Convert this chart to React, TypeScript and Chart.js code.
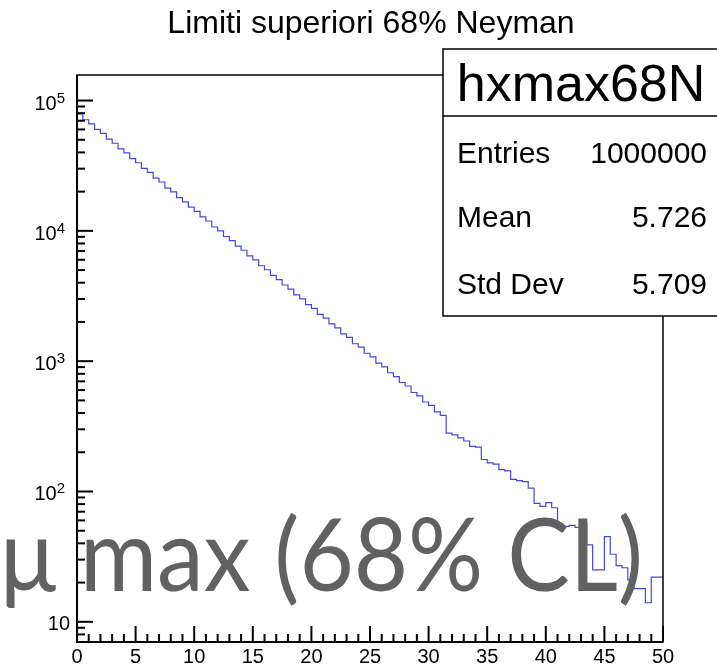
import React, { useEffect, useRef } from 'react';
import { Chart, registerables } from 'chart.js';

Chart.register(...registerables);

// ---------------- data ----------------
const titleText = 'Limiti superiori 68% Neyman';
const overlayText = 'μ max (68% CL)';

const xMin = 0;
const xMax = 50;
const binWidth = 0.5;

// bin contents (100 bins of width 0.5 from 0 to 50)
const counts = [
  84500, 78800, 71200, 66300, 60100, 55900, 50500, 47000, 42500, 39600,
  35800, 33300, 30200, 28100, 25400, 23700, 21300, 19900, 18000, 16700,
  15200, 14100, 12800, 11900, 10700, 10000, 9050, 8420, 7630, 7100,
  6420, 5980, 5400, 5030, 4560, 4230, 3840, 3570, 3230, 3010,
  2720, 2540, 2290, 2140, 1930, 1800, 1620, 1520, 1360, 1280,
  1150, 1080, 965, 905, 815, 762, 686, 645, 575, 542,
  486, 458, 408, 384, 280, 272, 258, 244, 222, 219,
  176, 166, 162, 147, 144, 124, 121, 119, 106, 81,
  77, 82, 75, 56, 54, 55, 53, 57, 39, 25,
  25, 45, 33, 27, 26, 21, 18, 18, 14, 22,
];

const yMin = 7;
const yMax = 157000;

const xMajorTicks = [0, 5, 10, 15, 20, 25, 30, 35, 40, 45, 50];
const xTickLabels = ['0', '5', '10', '15', '20', '25', '30', '35', '40', '45', '50'];
const yDecadeExponents = [1, 2, 3, 4, 5];

const statsName = 'hxmax68N';
const statsLabels = ['Entries', 'Mean', 'Std Dev'];
const statsValues = ['1000000', '5.726', '5.709'];

const SANS = "'Liberation Sans', Arial, Helvetica, sans-serif";

// ---------------- decoration plugin (ROOT style) ----------------
const rootDecor = {
  id: 'rootDecor',
  beforeDraw(chart: any) {
    const ctx = chart.ctx;
    ctx.save();
    ctx.fillStyle = '#ffffff';
    ctx.fillRect(0, 0, chart.width, chart.height);
    ctx.restore();
  },
  afterDraw(chart: any) {
    const ctx: CanvasRenderingContext2D = chart.ctx;
    const a = chart.chartArea;
    const xs = chart.scales.x;
    const ys = chart.scales.y;
    ctx.save();

    // frame
    ctx.strokeStyle = '#000';
    ctx.lineWidth = 1.5;
    ctx.strokeRect(a.left, a.top, a.right - a.left, a.bottom - a.top);
    ctx.lineWidth = 2;
    ctx.beginPath();
    ctx.moveTo(a.left, a.top);
    ctx.lineTo(a.left, a.bottom);
    ctx.lineTo(a.right, a.bottom);
    ctx.stroke();

    // y ticks (log)
    ctx.lineWidth = 2;
    for (let e = 0; e <= 6; e++) {
      for (let m = 1; m <= 9; m++) {
        const v = m * Math.pow(10, e);
        if (v <= ys.min || v > ys.max) continue;
        const py = ys.getPixelForValue(v);
        const len = m === 1 ? 16 : 8;
        ctx.beginPath();
        ctx.moveTo(a.left, py);
        ctx.lineTo(a.left + len, py);
        ctx.stroke();
      }
    }

    // x ticks
    for (let v = xMin; v <= xMax; v += 1) {
      const px = xs.getPixelForValue(v);
      const len = xMajorTicks.includes(v) ? 16 : 8;
      ctx.beginPath();
      ctx.moveTo(px, a.bottom);
      ctx.lineTo(px, a.bottom - len);
      ctx.stroke();
    }

    // y labels
    ctx.fillStyle = '#000';
    ctx.textBaseline = 'alphabetic';
    yDecadeExponents.forEach((ex) => {
      const py = ys.getPixelForValue(Math.pow(10, ex));
      if (ex === 1) {
        ctx.font = `20px ${SANS}`;
        ctx.textAlign = 'right';
        ctx.fillText('10', a.left - 7, py + 8);
      } else {
        ctx.font = `15px ${SANS}`;
        const sup = String(ex);
        const supW = ctx.measureText(sup).width;
        const rightEdge = a.left - 12;
        ctx.textAlign = 'left';
        ctx.fillText(sup, rightEdge - supW, py + 2);
        ctx.font = `20px ${SANS}`;
        ctx.textAlign = 'right';
        ctx.fillText('10', rightEdge - supW, py + 9);
      }
    });

    // x labels
    ctx.font = `20px ${SANS}`;
    ctx.textAlign = 'center';
    xMajorTicks.forEach((v, i) => {
      const px = xs.getPixelForValue(v);
      ctx.fillText(xTickLabels[i], px, a.bottom + 21);
    });

    // title
    ctx.font = `32px ${SANS}`;
    ctx.textAlign = 'center';
    ctx.fillText(titleText, 371, 33);

    // stats box
    const bx = 443, by = 49, bw = 280, bh = 267, sep = 116;
    ctx.fillStyle = '#fff';
    ctx.fillRect(bx, by, bw, bh);
    ctx.strokeStyle = '#000';
    ctx.lineWidth = 1.5;
    ctx.strokeRect(bx, by, bw, bh);
    ctx.beginPath();
    ctx.moveTo(bx, sep);
    ctx.lineTo(bx + bw, sep);
    ctx.stroke();
    ctx.fillStyle = '#000';
    ctx.font = `52px ${SANS}`;
    ctx.textAlign = 'center';
    ctx.fillText(statsName, 581, 101);
    ctx.font = `30px ${SANS}`;
    const rowBase = [163, 227, 294];
    statsLabels.forEach((lab, i) => {
      ctx.textAlign = 'left';
      ctx.fillText(lab, 457, rowBase[i]);
      ctx.textAlign = 'right';
      ctx.fillText(statsValues[i], 707, rowBase[i]);
    });

    // overlay caption
    ctx.fillStyle = '#616161';
    ctx.font = `100px Lato, 'Open Sans', sans-serif`;
    ctx.textAlign = 'left';
    ctx.fillText(overlayText, 0, 591, 643);

    ctx.restore();
  },
};

export default function App() {
  const ref = useRef<HTMLCanvasElement>(null);
  useEffect(() => {
    document.body.style.margin = '0';
    const histData = counts.map((c, i) => ({ x: xMin + i * binWidth, y: c }));
    histData.push({ x: xMax, y: counts[counts.length - 1] });
    const chart = new Chart(ref.current as HTMLCanvasElement, {
      type: 'line',
      data: {
        datasets: [
          {
            data: histData,
            stepped: 'after',
            borderColor: '#4646dc',
            borderWidth: 1.2,
            pointRadius: 0,
            fill: false,
            tension: 0,
          } as any,
        ],
      },
      options: {
        animation: false,
        responsive: false,
        devicePixelRatio: 1,
        layout: { padding: { left: 77, right: 54, top: 75, bottom: 27 } },
        plugins: {
          legend: { display: false },
          title: { display: false },
          tooltip: { enabled: false },
        },
        scales: {
          x: { type: 'linear', min: xMin, max: xMax, display: false },
          y: { type: 'logarithmic', min: yMin, max: yMax, display: false },
        },
      },
      plugins: [rootDecor],
    });
    return () => chart.destroy();
  }, []);
  return (
    <div style={{ width: 717, height: 669, background: '#fff' }}>
      <canvas ref={ref} width={717} height={669} style={{ display: 'block' }} />
    </div>
  );
}
